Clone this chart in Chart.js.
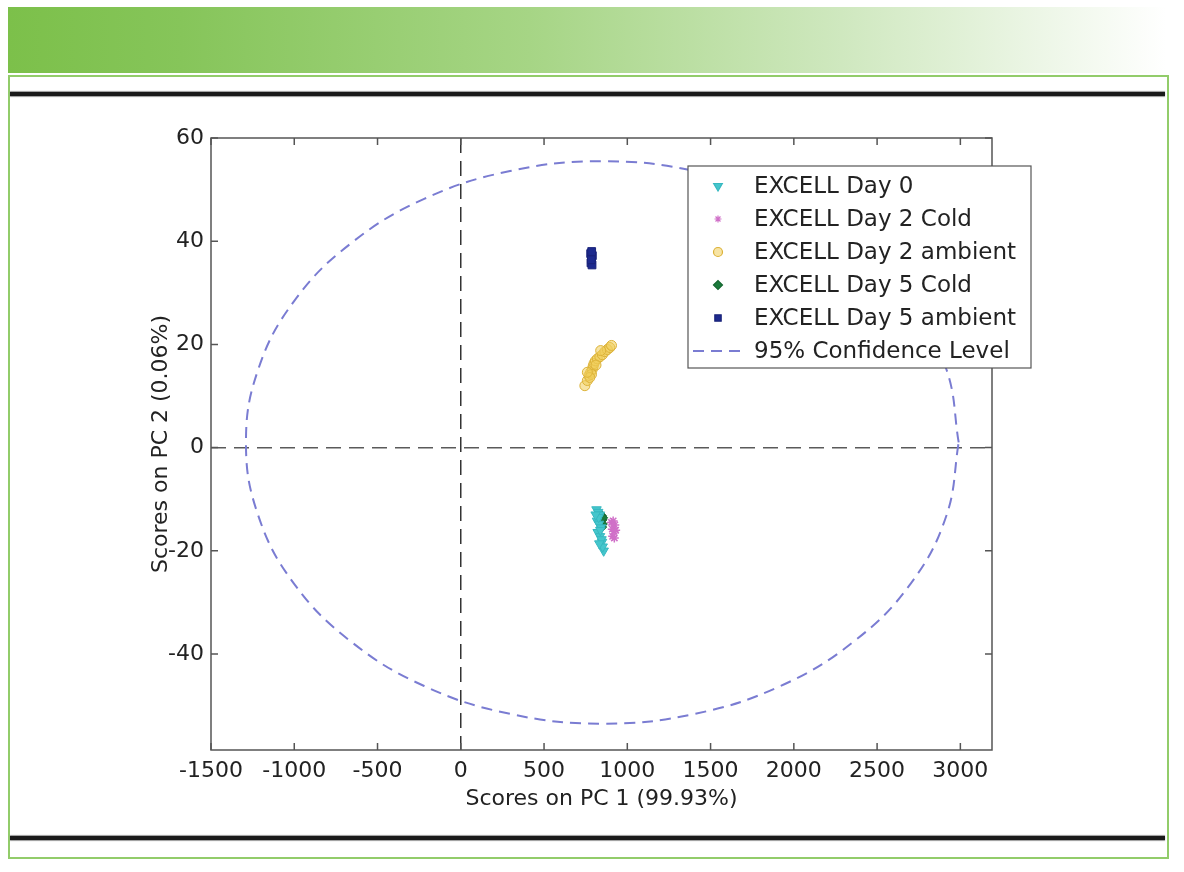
<!DOCTYPE html>
<html>
<head>
<meta charset="utf-8">
<title>PCA scores plot</title>
<script src="https://cdn.jsdelivr.net/npm/chart.js@4.4.1/dist/chart.umd.min.js"></script>
<style>
  body { margin: 0; background: #fff; }
  #page { position: relative; width: 1184px; height: 872px; overflow: hidden; }
  #band { position: absolute; left: 8px; top: 7px; width: 1158px; height: 66px;
          background: linear-gradient(to right, #7cc04a 0%, #86c55a 15%, #a6d585 45%, #cfe8bf 72%, #ffffff 100%); }
  #frame { position: absolute; left: 8px; top: 75px; width: 1157px; height: 780px; border: 2px solid #92cc6a; }
  .rule { position: absolute; left: 10px; width: 1155px; height: 4px; background: #1a1a1a;
          box-shadow: 0 -1px 1px #999, 0 1px 1px #999; }
  #chartBox { position: absolute; left: 0; top: 0; width: 1184px; height: 872px; }
</style>
</head>
<body>
<div id="page">
  <div id="band"></div>
  <div id="frame"></div>
  <div class="rule" style="top:92px"></div>
  <div class="rule" style="top:836px"></div>
  <div id="chartBox"><canvas id="scoresChart"></canvas></div>
</div>
<script>
//  series values (PC1 score, PC2 score)
const day0X = [815, 825, 835, 818, 830, 842, 822, 836, 848, 858, 828, 845, 838, 852, 810, 832];
const day0Y = [-12.0, -12.5, -13.0, -14.2, -14.8, -15.5, -16.4, -17.2, -18.3, -20.0, -13.5, -17.8, -16.0, -19.2, -13.0, -18.6];

const day2ColdX = [905, 915, 925, 910, 920, 930, 912, 922];
const day2ColdY = [-14.5, -14.2, -15.0, -15.8, -16.2, -16.0, -17.2, -17.5];

const day2AmbX = [745, 760, 770, 780, 790, 795, 800, 808, 820, 835, 850, 865, 880, 895, 905, 785, 775, 812, 760, 840];
const day2AmbY = [12.0, 13.0, 14.0, 14.6, 15.2, 15.8, 16.3, 16.8, 17.2, 17.6, 18.0, 18.6, 19.0, 19.4, 19.8, 14.2, 13.6, 16.0, 14.6, 18.8];

const day5ColdX = [845, 848, 850, 846, 852];
const day5ColdY = [-13.2, -14.0, -14.8, -15.4, -13.6];

const day5AmbX = [780, 785, 790, 782, 788, 784, 786];
const day5AmbY = [37.6, 36.8, 37.2, 35.8, 35.4, 36.4, 38.0];

//  95% confidence ellipse
const ellipseX = [2990, 2917, 2703, 2363, 1920, 1404, 850, 296, -220, -663, -1003, -1217, -1290,
                  -1217, -1003, -663, -220, 296, 850, 1404, 1920, 2363, 2703, 2917, 2990];
const ellipseY = [1.0, 15.1, 28.3, 39.5, 48.2, 53.6, 55.5, 53.6, 48.2, 39.5, 28.3, 15.1, 1.0,
                  -13.1, -26.3, -37.5, -46.2, -51.6, -53.5, -51.6, -46.2, -37.5, -26.3, -13.1, 1.0];

const seriesLabels = ['EXCELL Day 0', 'EXCELL Day 2 Cold', 'EXCELL Day 2 ambient',
                      'EXCELL Day 5 Cold', 'EXCELL Day 5 ambient', '95% Confidence Level'];

//  tick labels and axis limits
const xTicks = [-1500, -1000, -500, 0, 500, 1000, 1500, 2000, 2500, 3000];
const yTicks = [-40, -20, 0, 20, 40, 60];
const xMin = -1500, xMax = 3190;
const yMin = -58.6, yMax = 60;

const FONT = "'DejaVu Sans', 'Liberation Sans', Arial, sans-serif";

function toPoints(xs, ys) {
    return xs.map((x, i) => ({ x: x, y: ys[i] }));
}

//  frame on all four sides with ticks pointing inwards (matlab style)
const framePlugin = {
    id: 'frame',
    afterDatasetsDraw(chart) {
        const ctx = chart.ctx, a = chart.chartArea;
        const xs = chart.scales.x, ys = chart.scales.y;
        ctx.save();
        ctx.strokeStyle = '#555';
        ctx.lineWidth = 1.5;
        ctx.strokeRect(a.left, a.top, a.right - a.left, a.bottom - a.top);
        ctx.beginPath();
        xs.ticks.forEach(t => {
            const px = xs.getPixelForValue(t.value);
            ctx.moveTo(px, a.bottom); ctx.lineTo(px, a.bottom - 7);
            ctx.moveTo(px, a.top); ctx.lineTo(px, a.top + 7);
        });
        ys.ticks.forEach(t => {
            const py = ys.getPixelForValue(t.value);
            ctx.moveTo(a.left, py); ctx.lineTo(a.left + 7, py);
            ctx.moveTo(a.right, py); ctx.lineTo(a.right - 7, py);
        });
        ctx.stroke();
        ctx.restore();
    }
};

//  legend box sitting inside the top right of the plot
const legendPlugin = {
    id: 'boxLegend',
    afterDraw(chart) {
        const ctx = chart.ctx;
        const bx = 688, by = 166, bw = 343, bh = 202;
        const rowY = 186, rowStep = 33, markX = 718, textX = 754;
        ctx.save();
        ctx.fillStyle = '#fff';
        ctx.fillRect(bx, by, bw, bh);
        ctx.strokeStyle = '#555';
        ctx.lineWidth = 1.2;
        ctx.strokeRect(bx, by, bw, bh);
        ctx.font = '23px ' + FONT;
        ctx.textBaseline = 'middle';
        chart.data.datasets.forEach((ds, i) => {
            const y = rowY + i * rowStep;
            if (ds.showLine) {
                ctx.strokeStyle = ds.borderColor;
                ctx.lineWidth = ds.borderWidth;
                ctx.setLineDash(ds.borderDash);
                ctx.beginPath();
                ctx.moveTo(693, y); ctx.lineTo(746, y);
                ctx.stroke();
                ctx.setLineDash([]);
            } else {
                ctx.fillStyle = ds.pointBackgroundColor;
                ctx.strokeStyle = ds.pointBorderColor;
                Chart.helpers.drawPoint(ctx, {
                    pointStyle: ds.pointStyle, rotation: ds.pointRotation || 0,
                    radius: ds.legendRadius, borderWidth: 1
                }, markX, y);
            }
            ctx.fillStyle = '#222';
            ctx.fillText(ds.label, textX, y + 1);
        });
        ctx.restore();
    }
};

//  keep only the read tick values on an axis
function fixedTicks(values) {
    return scale => { scale.ticks = values.map(v => ({ value: v })); };
}

function drawChart() {
    const ctx = document.getElementById('scoresChart').getContext('2d');
    window.scoresChart = new Chart(ctx, {
        type: 'scatter',
        data: {
            datasets: [
                { label: seriesLabels[0], data: toPoints(day0X, day0Y), pointStyle: 'triangle', pointRotation: 180,
                  pointRadius: 5.5, legendRadius: 5, pointBackgroundColor: '#45c6cc', pointBorderColor: '#36b8c0' },
                { label: seriesLabels[1], data: toPoints(day2ColdX, day2ColdY), pointStyle: 'star',
                  pointRadius: 4.5, legendRadius: 3.5, pointBackgroundColor: '#d77fd0', pointBorderColor: '#d070c8', pointBorderWidth: 1.5 },
                { label: seriesLabels[2], data: toPoints(day2AmbX, day2AmbY), pointStyle: 'circle',
                  pointRadius: 5, legendRadius: 4.5, pointBackgroundColor: 'rgba(240,205,90,0.55)', pointBorderColor: '#dcb238' },
                { label: seriesLabels[3], data: toPoints(day5ColdX, day5ColdY), pointStyle: 'rectRot',
                  pointRadius: 5, legendRadius: 4.5, pointBackgroundColor: '#1b7a3c', pointBorderColor: '#14662f' },
                { label: seriesLabels[4], data: toPoints(day5AmbX, day5AmbY), pointStyle: 'rect',
                  pointRadius: 5.5, legendRadius: 4.5, pointBackgroundColor: '#1d2a8e', pointBorderColor: '#1a237a' },
                { label: seriesLabels[5], data: toPoints(ellipseX, ellipseY), showLine: true, pointRadius: 0,
                  borderColor: 'rgb(122,124,210)', borderWidth: 2, borderDash: [11, 7], tension: 0.4, fill: false }
            ]
        },
        options: {
            responsive: true,
            maintainAspectRatio: false,
            animation: false,
            layout: { padding: { left: 130, right: 192, top: 138, bottom: 60 } },
            plugins: { legend: { display: false }, tooltip: { enabled: false } },
            scales: {
                x: {
                    type: 'linear', min: xMin, max: xMax,
                    afterFit: s => { s.height = 62; },
                    afterBuildTicks: fixedTicks(xTicks),
                    ticks: { autoSkip: false, padding: 8, color: '#222',
                             font: { family: FONT, size: 22 }, maxRotation: 0,
                             callback: v => String(v) },
                    grid: { drawTicks: false, lineWidth: 1.5,
                            color: c => (c.tick && c.tick.value === 0) ? '#333' : 'rgba(0,0,0,0)' },
                    border: { display: false, dash: [15, 8] },
                    title: { display: true, text: 'Scores on PC 1 (99.93%)', color: '#222',
                             font: { family: FONT, size: 22 }, padding: { top: 0, bottom: 0 } }
                },
                y: {
                    type: 'linear', min: yMin, max: yMax,
                    afterFit: s => { s.width = 81; },
                    afterBuildTicks: fixedTicks(yTicks),
                    ticks: { autoSkip: false, padding: 7, color: '#222',
                             font: { family: FONT, size: 22 }, callback: v => String(v) },
                    grid: { drawTicks: false, lineWidth: 1.5,
                            color: c => (c.tick && c.tick.value === 0) ? '#5a5a5a' : 'rgba(0,0,0,0)' },
                    border: { display: false, dash: [15, 8] },
                    title: { display: true, text: 'Scores on PC 2 (0.06%)', color: '#222',
                             font: { family: FONT, size: 22 }, padding: { top: 18, bottom: 0 } }
                }
            }
        },
        plugins: [framePlugin, legendPlugin]
    });
}

document.addEventListener('DOMContentLoaded', drawChart);
</script>
</body>
</html>
